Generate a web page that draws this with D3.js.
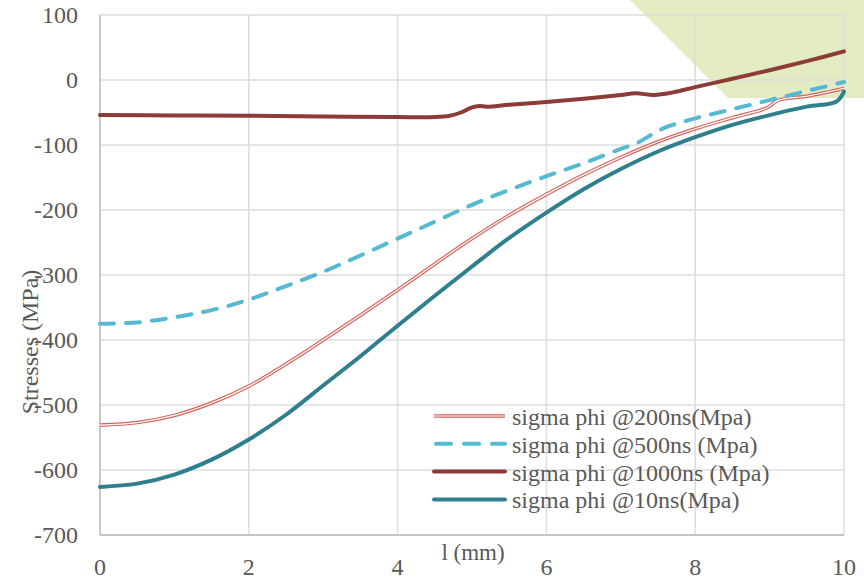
<!DOCTYPE html>
<html>
<head>
<meta charset="utf-8">
<script src="https://cdn.jsdelivr.net/npm/d3@7"></script>
<style>
  body { margin: 0; background: #fff; }
  text { font-family: "Liberation Serif", "Times New Roman", serif; fill: #595959; }
</style>
</head>
<body>
<div id="chart"></div>
<script>
// Stress profiles along l (mm)

const width = 864;
const height = 580;

// data
const xValues = [0, 0.5, 1, 1.5, 2, 2.5, 3, 3.5, 4, 4.5, 5, 5.5, 6, 6.5, 7, 7.5, 8, 8.5, 9, 9.5, 9.9, 10];
const s10ns = [-626, -621, -607, -584, -553, -515, -470, -425, -378, -332, -287, -243, -204, -168, -137, -110, -88, -69, -54, -41, -33, -18];

const x200 = [0, 0.5, 1, 1.5, 2, 2.5, 3, 3.5, 4, 4.5, 5, 5.5, 6, 6.5, 7, 7.5, 8, 8.5, 8.96, 9.12, 9.5, 9.8, 10];
const s200ns = [-531, -527, -516, -497, -471, -437, -400, -362, -323, -283, -244, -208, -176, -146, -119, -95, -75, -58, -43, -31, -25, -18, -13];

const x500 = [0, 0.5, 1, 1.5, 2, 2.5, 3, 3.5, 4, 4.5, 5, 5.5, 6, 6.5, 7, 7.2, 7.4, 7.6, 8, 8.5, 9, 9.5, 10];
const s500ns = [-375, -373, -365, -354, -338, -317, -295, -270, -244, -218, -192, -169, -148, -128, -106, -98, -85, -73, -59, -45, -31, -17, -3];

const x1000 = [0, 1, 2, 3, 4, 4.5, 4.7, 4.85, 5.0, 5.1, 5.2, 5.5, 6, 6.5, 7, 7.2, 7.45, 7.7, 8, 8.5, 9, 9.5, 10];
const s1000ns = [-54, -54.5, -55, -56, -57, -57, -55, -50, -42, -40, -41, -38, -34, -29, -23, -20.5, -23, -19, -11, 2, 15, 29, 44];

const xTicks = [0, 2, 4, 6, 8, 10];
const yTicks = [100, 0, -100, -200, -300, -400, -500, -600, -700];

const seriesNames = [
	'sigma phi @200ns(Mpa)',
	'sigma phi @500ns (Mpa)',
	'sigma phi @1000ns (Mpa)',
	'sigma phi @10ns(Mpa)'
];

const svg = d3.select('#chart')
	.append('svg')
	.attr('width', width)
	.attr('height', height);

const x = d3.scaleLinear().domain([0, 10]).range([100, 844]);
const y = d3.scaleLinear().domain([-700, 100]).range([535, 15]);

// green decoration in the top right corner
svg.append('polygon')
	.attr('points', [[630, 0], [width, 0], [width, 98], [728, 98]].map(p => p.join(',')).join(' '))
	.attr('fill', '#e2ebc1');

// gridlines
svg.append('g')
	.selectAll('line')
	.data(yTicks)
	.join('line')
	.attr('x1', x(0)).attr('x2', x(10))
	.attr('y1', d => y(d)).attr('y2', d => y(d))
	.attr('stroke', '#dcdcdc')
	.attr('stroke-width', 1.5);

svg.append('g')
	.selectAll('line')
	.data(xTicks)
	.join('line')
	.attr('x1', d => x(d)).attr('x2', d => x(d))
	.attr('y1', y(100)).attr('y2', y(-700))
	.attr('stroke', '#dcdcdc')
	.attr('stroke-width', 1.5);

// axis lines
svg.append('line')
	.attr('x1', x(0)).attr('x2', x(0))
	.attr('y1', y(100)).attr('y2', y(-700))
	.attr('stroke', '#c4c4c4').attr('stroke-width', 1.8);
svg.append('line')
	.attr('x1', x(0)).attr('x2', x(10))
	.attr('y1', y(-700)).attr('y2', y(-700))
	.attr('stroke', '#c4c4c4').attr('stroke-width', 1.8);

// tick labels
svg.append('g')
	.selectAll('text')
	.data(yTicks)
	.join('text')
	.attr('x', 78)
	.attr('y', d => y(d))
	.attr('dy', '0.34em')
	.attr('text-anchor', 'end')
	.style('font-size', '24px')
	.text(d => d);

svg.append('g')
	.selectAll('text')
	.data(xTicks)
	.join('text')
	.attr('x', d => x(d))
	.attr('y', 575)
	.attr('text-anchor', 'middle')
	.style('font-size', '24px')
	.text(d => d);

// axis titles
svg.append('text')
	.attr('transform', 'translate(38, 342) rotate(-90)')
	.attr('text-anchor', 'middle')
	.style('font-size', '24px')
	.text('Stresses (MPa)');

svg.append('text')
	.attr('x', 473)
	.attr('y', 560)
	.attr('text-anchor', 'middle')
	.style('font-size', '23px')
	.text('l (mm)');

const line = d3.line()
	.x(d => x(d[0]))
	.y(d => y(d[1]))
	.curve(d3.curveCatmullRom.alpha(0.5));

const zip = (xs, ys) => xs.map((v, i) => [v, ys[i]]);

const plot = svg.append('g');

// 200ns: double line
plot.append('path')
	.attr('d', line(zip(x200, s200ns)))
	.attr('fill', 'none')
	.attr('stroke', '#d5645c')
	.attr('stroke-width', 3.6);
plot.append('path')
	.attr('d', line(zip(x200, s200ns)))
	.attr('fill', 'none')
	.attr('stroke', '#fff')
	.attr('stroke-width', 1.2);

// 500ns: dashed
plot.append('path')
	.attr('d', line(zip(x500, s500ns)))
	.attr('fill', 'none')
	.attr('stroke', '#55b9d3')
	.attr('stroke-width', 4)
	.attr('stroke-linecap', 'round')
	.attr('stroke-dasharray', '14,12');

// 1000ns
plot.append('path')
	.attr('d', line(zip(x1000, s1000ns)))
	.attr('fill', 'none')
	.attr('stroke', '#8c3b36')
	.attr('stroke-width', 4)
	.attr('stroke-linecap', 'round');

// 10ns
plot.append('path')
	.attr('d', line(zip(xValues, s10ns)))
	.attr('fill', 'none')
	.attr('stroke', '#2f7f8f')
	.attr('stroke-width', 4)
	.attr('stroke-linecap', 'round');

// legend
const legend = svg.append('g').attr('transform', 'translate(434, 416)');
const rowH = 27.8;

seriesNames.forEach((name, i) => {
	const row = legend.append('g').attr('transform', `translate(0, ${i * rowH})`);
	if (i === 0) {
		row.append('line').attr('x1', 0).attr('x2', 71).attr('stroke', '#d5645c').attr('stroke-width', 3.6);
		row.append('line').attr('x1', 0).attr('x2', 71).attr('stroke', '#fff').attr('stroke-width', 1.2);
	} else if (i === 1) {
		row.append('line').attr('x1', 2).attr('x2', 71).attr('stroke', '#55b9d3').attr('stroke-width', 4)
			.attr('stroke-linecap', 'round').attr('stroke-dasharray', '15,13');
	} else if (i === 2) {
		row.append('line').attr('x1', 0).attr('x2', 71).attr('stroke', '#8c3b36').attr('stroke-width', 4)
			.attr('stroke-linecap', 'round');
	} else {
		row.append('line').attr('x1', 0).attr('x2', 71).attr('stroke', '#2f7f8f').attr('stroke-width', 4)
			.attr('stroke-linecap', 'round');
	}
	row.append('text')
		.attr('x', 78)
		.attr('y', 9)
		.style('font-size', '24px')
		.text(name);
});
</script>
</body>
</html>
